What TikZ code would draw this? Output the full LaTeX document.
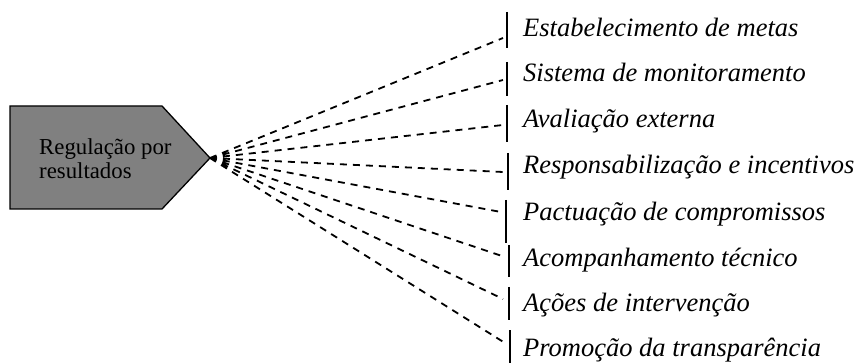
\documentclass[tikz,border=0pt]{standalone}
\usepackage{fontspec}
\setmainfont{Liberation Serif}
\begin{document}
\begin{tikzpicture}[x=1pt, y=-1pt, line cap=butt, line join=miter]
			\tikzset{item style/.style={anchor=base west, inner sep=0pt, font=\fontsize{26.5}{30}\selectfont\itshape},
				bar style/.style={line width=1.8pt},
				link style/.style={dashed, line width=1.8pt, dash pattern=on 7pt off 6pt}}
			\useasboundingbox (0,0) rectangle (859,363);
			% pentagon
			\draw[fill=gray, line width=1.3pt] (10,106)--(162,106)--(210,158)--(162,209)--(10,209)--cycle;
			\coordinate (tip) at (210,158);
			\node[anchor=base west, inner sep=0pt, align=left, font=\fontsize{22.8}{24}\selectfont] (reg) at (39,179) {Regulação por\\resultados};
			% bars
			\draw[bar style] (507,12)--(507,48) (507,62)--(507,96) (507,105)--(507,142) (508,153)--(508,190)
				(506,200)--(506,243) (509,245)--(509,277) (509,287)--(509,320) (510,330)--(510,363);
			\coordinate (e1) at (503,38); \coordinate (e2) at (503,80);
			\coordinate (e3) at (503,125); \coordinate (e4) at (503,172);
			\coordinate (e5) at (501,212); \coordinate (e6) at (502,256);
			\coordinate (e7) at (503,299); \coordinate (e8) at (505,343);
			% items
			\node[item style] (t1) at (523,37) {Estabelecimento de metas};
			\node[item style] (t2) at (523,82) {Sistema de monitoramento};
			\node[item style] (t3) at (523,128) {Avaliação externa};
			\node[item style] (t4) at (523,174) {Responsabilização e incentivos};
			\node[item style] (t5) at (523,221) {Pactuação de compromissos};
			\node[item style] (t6) at (523,267) {Acompanhamento técnico};
			\node[item style] (t7) at (523,311) {Ações de intervenção};
			\node[item style] (t8) at (523,356) {Promoção da transparência};
			% links
			\draw[link style] (tip)--(e1) (tip)--(e2) (tip)--(e3) (tip)--(e4)
				(tip)--(e5) (tip)--(e6) (tip)--(e7) (tip)--(e8);
	\end{tikzpicture}
\end{document}
